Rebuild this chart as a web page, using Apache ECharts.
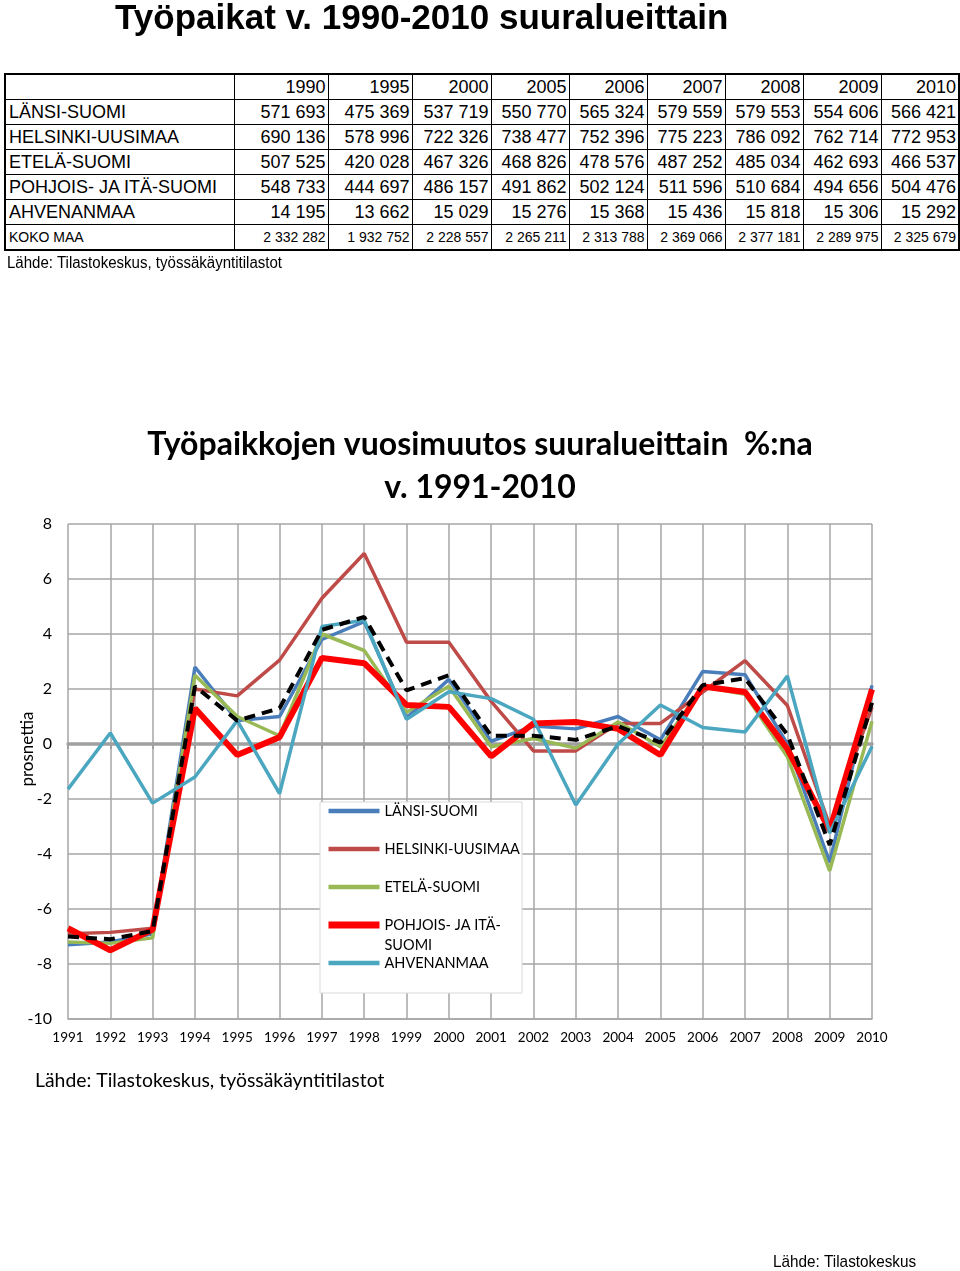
<!DOCTYPE html>
<html>
<head>
<meta charset="utf-8">
<script src="https://cdn.jsdelivr.net/npm/echarts@6/dist/echarts.min.js"></script>
<style>
  html, body { margin:0; padding:0; background:#fff; }
  #page { position:relative; width:960px; height:1271px; overflow:hidden; }
  #chart { position:absolute; left:0; top:0; width:960px; height:1271px; }
  #title { position:absolute; left:115px; top:0; font-family:'Liberation Sans',Arial,sans-serif; font-weight:bold; font-size:35px; line-height:34px; white-space:nowrap; z-index:2; }
  #tbl { position:absolute; left:4px; top:73px; border-collapse:collapse; table-layout:fixed; font-family:'Liberation Sans',Arial,sans-serif; font-size:18px; z-index:2; background:#fff; border:2px solid #000; }
  #tbl td { border:1px solid #000; height:24px; line-height:24px; padding:0 2px 0 2px; text-align:right; white-space:nowrap; overflow:hidden; }
  #tbl td.name { text-align:left; padding-left:3px; }
  #tbl tr.small td { font-size:14px; }
  #src1 { position:absolute; left:7px; top:254px; font-family:'Liberation Sans',Arial,sans-serif; font-size:16px; z-index:2; white-space:nowrap; transform:scaleX(0.94); transform-origin:0 0; }
</style>
</head>
<body>
<div id="page">
  <div id="chart"></div>
  <div id="title"></div>
  <table id="tbl"></table>
  <div id="src1"></div>
</div>
<script>
// ---- Table data ----
const pageTitle = 'Työpaikat v. 1990-2010 suuralueittain';
const tableYears = ['1990','1995','2000','2005','2006','2007','2008','2009','2010'];
const tableRegions = ['LÄNSI-SUOMI','HELSINKI-UUSIMAA','ETELÄ-SUOMI','POHJOIS- JA ITÄ-SUOMI','AHVENANMAA','KOKO MAA'];
const tLansi     = ['571 693','475 369','537 719','550 770','565 324','579 559','579 553','554 606','566 421'];
const tHelsinki  = ['690 136','578 996','722 326','738 477','752 396','775 223','786 092','762 714','772 953'];
const tEtela     = ['507 525','420 028','467 326','468 826','478 576','487 252','485 034','462 693','466 537'];
const tPohjois   = ['548 733','444 697','486 157','491 862','502 124','511 596','510 684','494 656','504 476'];
const tAhvenan   = ['14 195','13 662','15 029','15 276','15 368','15 436','15 818','15 306','15 292'];
const tKoko      = ['2 332 282','1 932 752','2 228 557','2 265 211','2 313 788','2 369 066','2 377 181','2 289 975','2 325 679'];
const tableSource = 'Lähde: Tilastokeskus, työssäkäyntitilastot';

// ---- Chart data (% change per year) ----
const years = ['1991','1992','1993','1994','1995','1996','1997','1998','1999','2000','2001','2002','2003','2004','2005','2006','2007','2008','2009','2010'];
const lansiSuomi   = [-7.3,-7.2,-6.9, 2.8, 0.85, 1.0, 3.8, 4.45, 0.95, 2.35, 0.1, 0.65, 0.55, 1.0, 0.15, 2.64, 2.52, 0.0, -4.30, 2.13];
const helsinkiUus  = [-6.9,-6.85,-6.7, 2.0, 1.75, 3.05, 5.3, 6.93, 3.7, 3.7, 1.55, -0.25, -0.25, 0.75, 0.75, 1.89, 3.03, 1.40, -2.97, 1.34];
const etelaSuomi   = [-7.2,-7.25,-7.05, 2.5, 1.0, 0.3, 4.0, 3.4, 1.15, 2.1, -0.1, 0.2, -0.15, 0.8, -0.1, 2.08, 1.81, -0.46, -4.61, 0.83];
const pohjoisIta   = [-6.7,-7.5,-6.75, 1.3, -0.4, 0.25, 3.13, 2.94, 1.42, 1.35, -0.45, 0.75, 0.8, 0.55, -0.4, 2.09, 1.89, -0.18, -3.14, 1.99];
const ahvenanmaa   = [-1.64, 0.4, -2.15, -1.2, 0.85, -1.8, 4.27, 4.5, 0.9, 1.9, 1.65, 0.9, -2.22, 0.0, 1.42, 0.60, 0.44, 2.47, -3.24, -0.09];
const kokoMaa      = [-7.0,-7.1,-6.8, 2.1, 0.85, 1.3, 4.15, 4.62, 1.95, 2.5, 0.3, 0.3, 0.15, 0.65, 0.05, 2.14, 2.39, 0.34, -3.67, 1.5];
const seriesNames  = ['LÄNSI-SUOMI','HELSINKI-UUSIMAA','ETELÄ-SUOMI','POHJOIS- JA ITÄ-SUOMI','AHVENANMAA','KOKO MAA'];
const chartTitle = 'Työpaikkojen vuosimuutos suuralueittain  %:na\nv. 1991-2010';
const yAxisName = 'prosnettia';
const chartSource = 'Lähde: Tilastokeskus, työssäkäyntitilastot';
const cornerSource = 'Lähde: Tilastokeskus';

// ---- Build table ----
document.getElementById('title').textContent = pageTitle;
document.getElementById('src1').textContent = tableSource;
const colW = [229,94,84,79,78,78,78,78,78,78];
const tbl = document.getElementById('tbl');
const cg = document.createElement('colgroup');
colW.forEach(w => { const c = document.createElement('col'); c.style.width = w + 'px'; cg.appendChild(c); });
tbl.appendChild(cg);
function addRow(name, cells, cls) {
  const tr = document.createElement('tr');
  if (cls) tr.className = cls;
  const td0 = document.createElement('td'); td0.className = 'name'; td0.textContent = name; tr.appendChild(td0);
  cells.forEach(v => { const td = document.createElement('td'); td.textContent = v; tr.appendChild(td); });
  tbl.appendChild(tr);
}
addRow('', tableYears);
const tRows = [tLansi, tHelsinki, tEtela, tPohjois, tAhvenan, tKoko];
tableRegions.forEach((r, i) => addRow(r, tRows[i], i === 5 ? 'small' : ''));

// ---- Chart ----
const chart = echarts.init(document.getElementById('chart'), null, { renderer: 'canvas' });
const legendLabels = {
  'LÄNSI-SUOMI': '\nLÄNSI-SUOMI\n',
  'HELSINKI-UUSIMAA': '\nHELSINKI-UUSIMAA\n',
  'ETELÄ-SUOMI': '\nETELÄ-SUOMI\n',
  'POHJOIS- JA ITÄ-SUOMI': '\nPOHJOIS- JA ITÄ-\nSUOMI',
  'AHVENANMAA': '\nAHVENANMAA\n'
};
const gridColor = '#A6A6A6';
const dataSets = [lansiSuomi, helsinkiUus, etelaSuomi, pohjoisIta, ahvenanmaa, kokoMaa];
const colors = ['#4A7EBB', '#BE4B48', '#98B954', '#FF0000', '#4BA6C0', '#000000'];
const widths = [3.5, 3.5, 3.5, 6, 3.5, 4];
const legendWidths = [4.5, 4.5, 4.5, 7, 4.5];

const series = dataSets.map((d, i) => ({
  name: seriesNames[i],
  type: 'line',
  xAxisIndex: 0,
  data: d,
  symbol: 'none',
  smooth: false,
  color: colors[i],
  lineStyle: { color: colors[i], width: widths[i], type: i === 5 ? [11, 7] : 'solid' },
  z: 2 + i * 0.1
}));

chart.setOption({
  animation: false,
  backgroundColor: 'transparent',
  title: {
    text: chartTitle,
    left: 'center',
    top: 418,
    textStyle: { fontFamily: 'Lato', fontWeight: 'bold', fontSize: 32, lineHeight: 43, color: '#000' }
  },
  grid: { left: 68, right: 88, top: 524, bottom: 252, containLabel: false },
  legend: {
    data: seriesNames.slice(0, 5).map((n, i) => ({ name: n, lineStyle: { width: legendWidths[i], color: colors[i], cap: 'butt' } })),
    orient: 'vertical',
    left: 325,
    top: 781,
    padding: 0,
    itemWidth: 51,
    itemHeight: 14,
    itemGap: -22,
    selectedMode: false,
    itemStyle: { opacity: 0, borderWidth: 0 },
    formatter: n => legendLabels[n] || n,
    textStyle: { fontFamily: 'Lato', fontSize: 14.5, lineHeight: 20, color: '#000', padding: [0, 0, 0, 0] },
    z: 5
  },
  xAxis: [
    {
      type: 'category', data: years, boundaryGap: false,
      axisLine: { onZero: true, lineStyle: { color: '#A0A0A0', width: 3.5 } },
      axisTick: { show: true, length: 5, lineStyle: { color: '#A0A0A0', width: 2 } },
      axisLabel: { show: false },
      splitLine: { show: true, lineStyle: { color: gridColor, width: 1.5 } }
    },
    {
      type: 'category', data: years, boundaryGap: false, position: 'bottom',
      axisLine: { onZero: false, lineStyle: { color: gridColor, width: 1.5 } },
      axisTick: { show: false },
      axisLabel: { interval: 0, fontFamily: 'Lato', fontSize: 13.5, color: '#000', margin: 12 },
      splitLine: { show: false }
    }
  ],
  yAxis: {
    type: 'value', min: -10, max: 8, interval: 2,
    axisLine: { show: false }, axisTick: { show: false },
    axisLabel: { fontFamily: 'Lato', fontSize: 16, color: '#000', margin: 16 },
    splitLine: { lineStyle: { color: gridColor, width: 1.5 } }
  },
  graphic: [
    { type: 'rect', z: 3, shape: { x: 320, y: 802, width: 202, height: 191 }, style: { fill: '#fff', stroke: '#D9D9D9', lineWidth: 1 } },
    { type: 'text', z: 3, x: 28, y: 749, rotation: Math.PI / 2,
      style: { text: yAxisName, fontFamily: 'Lato', fontSize: 17, fill: '#000', align: 'center', verticalAlign: 'middle', textAlign: 'center', textVerticalAlign: 'middle' } },
    { type: 'text', z: 3, x: 35, y: 1081,
      style: { text: chartSource, fontFamily: 'Lato', fontSize: 19.4, fill: '#000', align: 'left', verticalAlign: 'middle', textAlign: 'left', textVerticalAlign: 'middle' } },
    { type: 'text', z: 3, x: 773, y: 1262, scaleX: 0.9,
      style: { text: cornerSource, fontFamily: 'Liberation Sans', fontSize: 17, fill: '#000', align: 'left', verticalAlign: 'middle', textAlign: 'left', textVerticalAlign: 'middle' } }
  ],
  series: series
});
</script>
</body>
</html>
